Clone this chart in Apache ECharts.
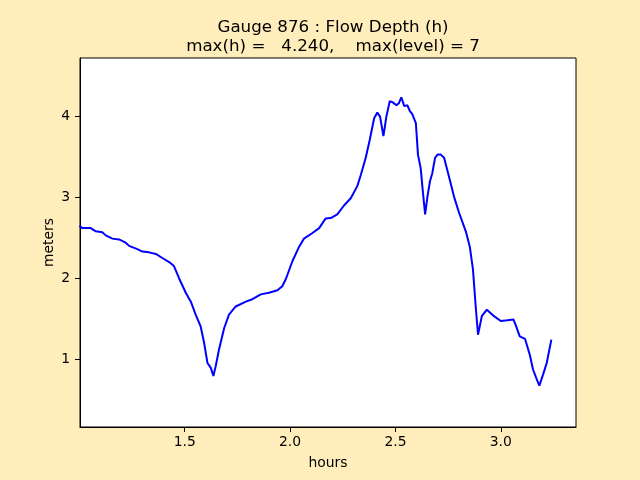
<!DOCTYPE html>
<html>
<head>
<meta charset="utf-8">
<script src="https://cdn.jsdelivr.net/npm/echarts@6/dist/echarts.min.js"></script>
<style>html,body{margin:0;padding:0;background:#ffeebb;}#c{width:640px;height:480px;}</style>
</head>
<body>
<div id="c"></div>
<script>
const titleLines = ['Gauge 876 : Flow Depth (h)', 'max(h) =   4.240,    max(level) = 7'];
const xLabel = 'hours';
const yLabel = 'meters';
const xTicks = [1.5, 2.0, 2.5, 3.0];
const yTicks = [1, 2, 3, 4];
const hours = [1.000,1.014,1.054,1.078,1.109,1.125,1.157,1.188,1.220,1.236,1.275,1.299,1.331,1.363,1.394,1.426,1.449,1.473,1.505,1.529,1.552,1.576,1.592,1.608,1.624,1.636,1.647,1.663,1.687,1.710,1.742,1.790,1.821,1.861,1.900,1.940,1.963,1.980,2.011,2.043,2.066,2.106,2.138,2.169,2.193,2.224,2.256,2.288,2.319,2.336,2.359,2.378,2.399,2.414,2.427,2.443,2.457,2.473,2.486,2.505,2.517,2.528,2.542,2.557,2.568,2.580,2.588,2.597,2.607,2.620,2.631,2.641,2.652,2.664,2.675,2.688,2.700,2.715,2.731,2.754,2.778,2.802,2.834,2.853,2.868,2.881,2.892,2.910,2.934,2.968,3.000,3.031,3.060,3.071,3.090,3.115,3.138,3.153,3.169,3.183,3.201,3.218,3.240];
const depth = [2.65,2.62,2.62,2.58,2.57,2.53,2.49,2.48,2.44,2.40,2.36,2.33,2.32,2.30,2.25,2.20,2.15,2.00,1.82,1.71,1.55,1.40,1.20,0.95,0.89,0.79,0.91,1.12,1.38,1.55,1.65,1.71,1.74,1.80,1.82,1.85,1.90,1.99,2.21,2.39,2.49,2.56,2.62,2.74,2.745,2.79,2.90,2.99,3.14,3.28,3.49,3.71,3.98,4.05,4.00,3.76,4.00,4.19,4.18,4.14,4.17,4.24,4.13,4.14,4.07,4.03,4.02,3.92,3.53,3.36,3.05,2.79,3.01,3.20,3.30,3.49,3.53,3.53,3.49,3.26,3.01,2.81,2.58,2.39,2.11,1.65,1.30,1.53,1.61,1.53,1.47,1.48,1.49,1.42,1.28,1.25,1.05,0.87,0.76,0.67,0.81,0.95,1.24];

const font = 'DejaVu Sans';
const chart = echarts.init(document.getElementById('c'), null, {renderer: 'canvas'});
chart.setOption({
  backgroundColor: '#ffeebb',
  animation: false,
  title: {
    text: titleLines.join('\n'),
    left: 328, top: 13, textAlign: 'center',
    textStyle: {fontFamily: font, fontSize: 16.7, fontWeight: 'normal', color: '#000', lineHeight: 19}
  },
  grid: {left: 80, right: 64, top: 58, bottom: 53, show: true, backgroundColor: '#fff', borderColor: '#000', borderWidth: 1},
  xAxis: {
    type: 'value', min: 1.003, max: 3.357,
    name: xLabel, nameLocation: 'middle', nameGap: 29, nameMoveOverlap: false,
    nameTextStyle: {fontFamily: font, fontSize: 13.9, color: '#000'},
    axisLine: {show: true, lineStyle: {color: '#000', width: 1}},
    axisTick: {show: true, length: 5, lineStyle: {color: '#000'}, customValues: xTicks},
    axisLabel: {fontFamily: font, fontSize: 13.9, color: '#000', margin: 8, customValues: xTicks, formatter: v => v.toFixed(1)},
    splitLine: {show: false}
  },
  yAxis: {
    type: 'value', min: 0.158, max: 4.726,
    name: yLabel, nameLocation: 'middle', nameGap: 24, nameRotate: 90, nameMoveOverlap: false,
    nameTextStyle: {fontFamily: font, fontSize: 13.9, color: '#000'},
    axisLine: {show: true, lineStyle: {color: '#000', width: 1}},
    axisTick: {show: true, length: 5, lineStyle: {color: '#000'}, customValues: yTicks},
    axisLabel: {fontFamily: font, fontSize: 13.9, color: '#000', margin: 10, customValues: yTicks, formatter: v => String(v)},
    splitLine: {show: false}
  },
  series: [{
    type: 'line', showSymbol: false, smooth: false,
    data: hours.map((h, i) => [h, depth[i]]),
    lineStyle: {color: '#0000ff', width: 2},
    clip: true
  }]
});
</script>
</body>
</html>
